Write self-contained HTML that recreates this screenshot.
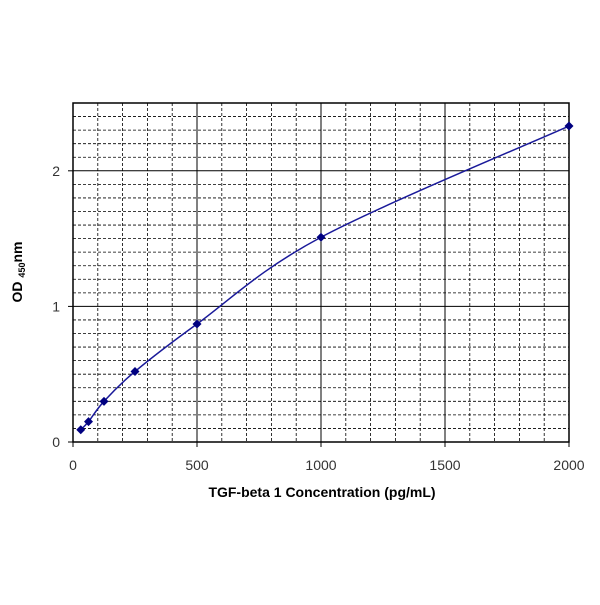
<!DOCTYPE html>
<html><head><meta charset="utf-8"><style>
body{margin:0;background:#fff;}
svg text{font-family:"Liberation Sans",Arial,sans-serif;}
</style></head><body>
<svg width="600" height="600" viewBox="0 0 600 600">
<g id="grid"></g>
<g id="axes"></g>
<g id="series"></g>
<text x="322" y="497" text-anchor="middle" font-size="14" font-weight="bold" fill="#000">TGF-beta 1 Concentration (pg/mL)</text>
<text transform="translate(22,272) rotate(-90)" text-anchor="middle" font-size="14" font-weight="bold" fill="#000">OD <tspan font-size="9" dy="3">450</tspan><tspan dy="-3">nm</tspan></text>
</svg>
<script>
const concentrations=[31.25,62.5,125,250,500,1000,2000];
const odValues=[0.09,0.15,0.30,0.52,0.87,1.51,2.33];
const xTicks=[0,500,1000,1500,2000];
const yTicks=[0,1,2];
const X0=73,X1=569,Y0=442,Y1=103,XMAX=2000,YMAX=2.5;
const sx=v=>X0+(v/XMAX)*(X1-X0);
const sy=v=>Y0-(v/YMAX)*(Y0-Y1);
const NS="http://www.w3.org/2000/svg";
function mk(t,a,p){const e=document.createElementNS(NS,t);for(const k in a)e.setAttribute(k,a[k]);p.appendChild(e);return e;}
const grid=document.getElementById('grid'),axes=document.getElementById('axes'),series=document.getElementById('series');
for(let v=100;v<XMAX;v+=100){const major=v%500===0;
 const l=mk('line',{x1:sx(v),x2:sx(v),y1:Y1,y2:Y0,stroke:'#000','stroke-width':major?1:0.8,'stroke-dasharray':major?'':'3,2'},grid);
 
 }
for(let i=1;i<25;i++){const v=i/10;const major=i%10===0;
 const l=mk('line',{x1:X0,x2:X1,y1:sy(v),y2:sy(v),stroke:'#000','stroke-width':major?1:0.8,'stroke-dasharray':major?'':'3,2'},grid);
 
 }
const frame=mk('rect',{x:X0,y:Y1,width:X1-X0,height:Y0-Y1,fill:'none',stroke:'#000','stroke-width':1.5},axes);


xTicks.forEach(v=>{
 const t=mk('line',{x1:sx(v),x2:sx(v),y1:Y0,y2:Y0+5,stroke:'#000'},axes);
 
 
 const tx=mk('text',{x:sx(v),y:470,'text-anchor':'middle','font-size':14,fill:'#333'},axes);tx.textContent=v;
 
 });
yTicks.forEach(v=>{
 const t=mk('line',{x1:X0-5,x2:X0,y1:sy(v),y2:sy(v),stroke:'#000'},axes);
 
 
 const tx=mk('text',{x:60,y:sy(v)+5,'text-anchor':'end','font-size':14,fill:'#333'},axes);tx.textContent=v;
 
 });
const pts=concentrations.map((c,i)=>[sx(c),sy(odValues[i])]);
let d='M'+pts[0][0]+','+pts[0][1];
for(let i=0;i<pts.length-1;i++){const p0=pts[Math.max(0,i-1)],p1=pts[i],p2=pts[i+1],p3=pts[Math.min(pts.length-1,i+2)];
 const c1=[p1[0]+(p2[0]-p0[0])/6,p1[1]+(p2[1]-p0[1])/6],c2=[p2[0]-(p3[0]-p1[0])/6,p2[1]-(p3[1]-p1[1])/6];
 d+=` C${c1[0]},${c1[1]} ${c2[0]},${c2[1]} ${p2[0]},${p2[1]}`;}
const path=mk('path',{d:d,fill:'none',stroke:'#1a1a9a','stroke-width':1.5},series);


pts.forEach(p=>{
 const m=mk('polygon',{points:`${p[0]},${p[1]-4.5} ${p[0]+4.5},${p[1]} ${p[0]},${p[1]+4.5} ${p[0]-4.5},${p[1]}`,fill:'#000080'},series);
 
 });
</script>
</body></html>
